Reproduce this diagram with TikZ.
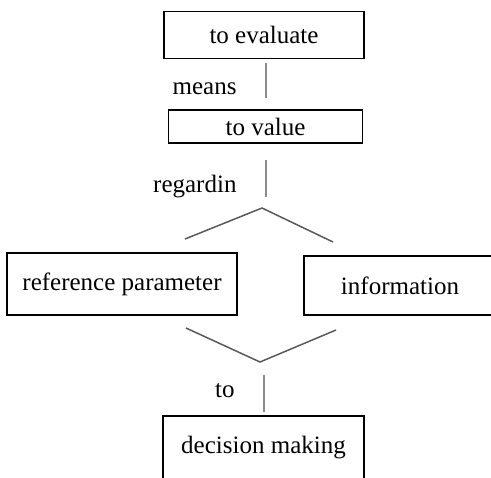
\documentclass[tikz,border=0pt]{standalone}
\usepackage{fontspec}
\setmainfont{Liberation Serif}
\usetikzlibrary{positioning,calc}

\begin{document}
\begin{tikzpicture}[
  x=0.5pt, y=-0.5pt,
  font=\fontsize{12.5}{14}\selectfont,
  box/.style={draw, line width=0.65pt, inner sep=0pt, align=center},
  stem/.style={draw=black!45, line width=1pt},
  fork/.style={draw=black!65, line width=0.75pt},
  rel/.style={left=14pt, midway, inner sep=0pt},
]
\useasboundingbox (0,0) rectangle (491,477);

% chain of terms, top to bottom
\node[box, minimum width=100pt, minimum height=23.5pt] (eval) at (264,35) {to evaluate};
\node[box, minimum width=97pt, minimum height=16.5pt] (value) at (265.5,126.5) {to value};

% the two things a value is taken against
\node[box, minimum width=115pt, minimum height=31pt] (refp) at (122,284) {reference parameter};
\node[box, minimum width=96pt, minimum height=29.5pt] (info) at (400,285.5) {information};

% bottom box runs off the lower edge
\node[box, minimum width=100.5pt, minimum height=35pt, text depth=6pt] (dec) at (263.5,451) {decision making};

% fork / join points
\coordinate (split) at (262,208);
\coordinate (splitL) at (185,239);
\coordinate (splitR) at (333,242);
\coordinate (merge) at (260,362);
\coordinate (mergeL) at (186,328);
\coordinate (mergeR) at (336,330);

% links
\draw[stem, shorten <=1.75pt, shorten >=5.5pt] (eval.south -| value.north) -- (value.north)
  node[rel, yshift=-2pt] {means};
\draw[stem, shorten <=8pt, shorten >=5.5pt] (value.south) -- (value.south |- split)
  node[rel, yshift=-5.5pt] {regardin};
\draw[fork] (splitL) -- (split) -- (splitR);
\draw[fork] (mergeL) -- (merge) -- (mergeR);
\draw[stem, shorten <=6.5pt, shorten >=1.5pt] (merge -| dec.north) -- (dec.north)
  node[rel, yshift=-1pt] {to};

\end{tikzpicture}
\end{document}
